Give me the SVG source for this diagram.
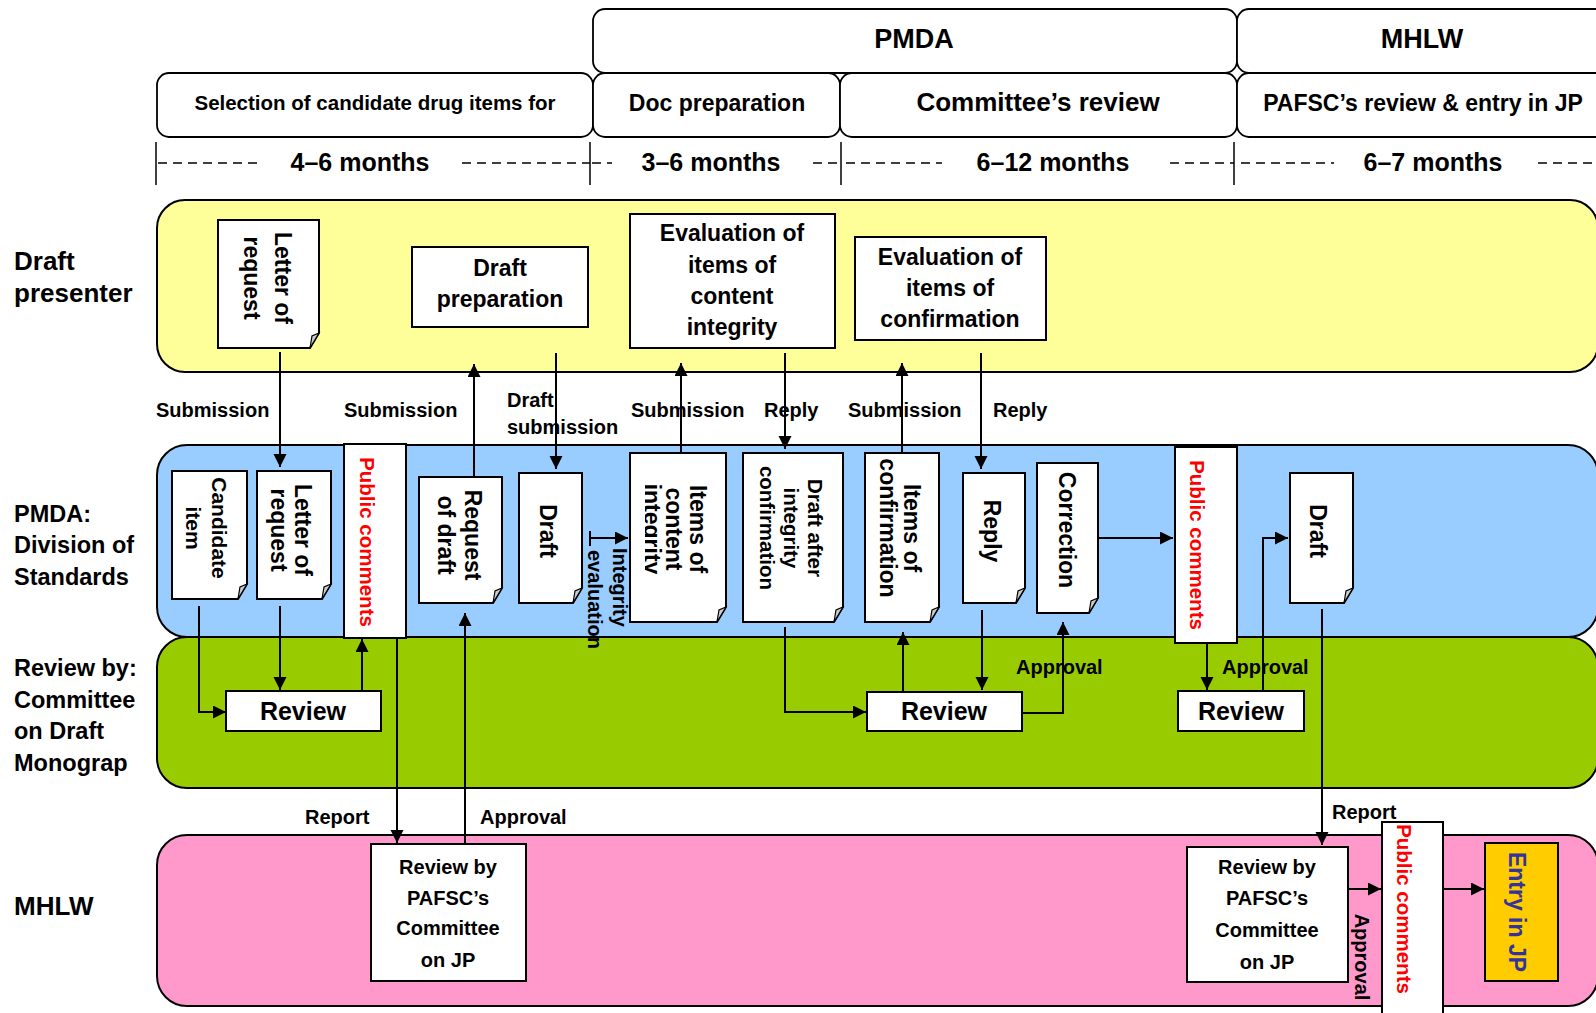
<svg xmlns="http://www.w3.org/2000/svg" width="1596" height="1013" viewBox="0 0 1596 1013">
<style>
.t{font-family:"Liberation Sans",Arial,sans-serif;font-weight:bold;fill:#000}
.lbl{font-size:23.5px}
.lbl2{font-size:26px}
.sm{font-size:20px}
.doc{font-size:23px}
.red{fill:#ff0000}
.lane{stroke:#000;stroke-width:2}
.box{fill:#fff;stroke:#000;stroke-width:2}
.hdr{fill:#fff;stroke:#000;stroke-width:1.8}
.fold{fill:#cccccc;stroke:#000;stroke-width:1.2}
.conn{fill:none;stroke:#000;stroke-width:2}
.arr{marker-end:url(#ah)}
.dash{stroke:#000;stroke-width:1.5;stroke-dasharray:9 6}
.tick{stroke:#000;stroke-width:1.5}
.r{text-anchor:middle;dominant-baseline:central}
.m{text-anchor:middle}
</style>
<defs>
<marker id="ah" markerUnits="userSpaceOnUse" markerWidth="14" markerHeight="14" refX="13" refY="6.5" orient="auto"><path d="M0,0 L13,6.5 L0,13 Z" fill="#000"/></marker>
<clipPath id="clipInt"><rect x="645" y="450" width="90" height="175"/></clipPath>
</defs>
<rect width="1596" height="1013" fill="#fff"/>

<g id="header">
<rect class="hdr" x="593" y="9" width="644" height="64" rx="12"/>
<rect class="hdr" x="1237" y="9" width="380" height="64" rx="12"/>
<rect class="hdr" x="157" y="73" width="436" height="64" rx="12"/>
<rect class="hdr" x="593" y="73" width="247" height="64" rx="12"/>
<rect class="hdr" x="840" y="73" width="397" height="64" rx="12"/>
<rect class="hdr" x="1237" y="73" width="380" height="64" rx="12"/>
<text class="t m" x="914" y="48" font-size="27">PMDA</text>
<text class="t m" x="1422" y="48" font-size="27">MHLW</text>
<text class="t m" x="375" y="110" font-size="20.5">Selection of candidate drug items for</text>
<text class="t m" x="717" y="111" font-size="23">Doc preparation</text>
<text class="t m" x="1038" y="111" font-size="26">Committee’s review</text>
<text class="t m" x="1423" y="111" font-size="23">PAFSC’s review &amp; entry in JP</text>
</g>

<g id="timeline">
<line class="tick" x1="156" y1="142" x2="156" y2="185"/>
<line class="tick" x1="590" y1="142" x2="590" y2="185"/>
<line class="tick" x1="841" y1="142" x2="841" y2="185"/>
<line class="tick" x1="1234" y1="142" x2="1234" y2="185"/>
<line class="dash" x1="158" y1="163" x2="262" y2="163"/>
<line class="dash" x1="462" y1="163" x2="590" y2="163"/>
<line class="dash" x1="592" y1="163" x2="612" y2="163"/>
<line class="dash" x1="813" y1="163" x2="841" y2="163"/>
<line class="dash" x1="846" y1="163" x2="942" y2="163"/>
<line class="dash" x1="1170" y1="163" x2="1234" y2="163"/>
<line class="dash" x1="1241" y1="163" x2="1334" y2="163"/>
<line class="dash" x1="1538" y1="163" x2="1596" y2="163"/>
<text class="t m" x="360" y="171" font-size="25">4–6 months</text>
<text class="t m" x="711" y="171" font-size="25">3–6 months</text>
<text class="t m" x="1053" y="171" font-size="25">6–12 months</text>
<text class="t m" x="1433" y="171" font-size="25">6–7 months</text>
</g>

<g id="lanes">
<rect class="lane" x="157" y="200" width="1441" height="172" rx="28" fill="#ffff99"/>
<rect class="lane" x="157" y="445" width="1441" height="192" rx="30" fill="#99ccff"/>
<rect class="lane" x="157" y="637" width="1441" height="151" rx="30" fill="#99cc00"/>
<rect class="lane" x="157" y="835" width="1441" height="171" rx="30" fill="#ff99cc"/>
</g>

<g id="lane-labels" class="t lbl">
<text class="lbl2" x="14" y="270">Draft</text>
<text class="lbl2" x="14" y="302">presenter</text>
<text x="14" y="522">PMDA:</text>
<text x="14" y="553">Division of</text>
<text x="14" y="585">Standards</text>
<text x="14" y="676">Review by:</text>
<text x="14" y="708">Committee</text>
<text x="14" y="739">on Draft</text>
<text x="14" y="771">Monograp</text>
<text class="lbl2" x="14" y="915">MHLW</text>
</g>

<g id="connectors">
<path class="conn arr" d="M280,352 V467"/>
<path class="conn arr" d="M474,477 V364"/>
<path class="conn arr" d="M556,353 V469"/>
<path class="conn arr" d="M681,453 V363"/>
<path class="conn arr" d="M785,353 V449"/>
<path class="conn arr" d="M902,453 V363"/>
<path class="conn arr" d="M981,353 V469"/>
<path class="conn arr" d="M199,606 V712 H226"/>
<path class="conn arr" d="M280,606 V690"/>
<path class="conn arr" d="M362,691 V639"/>
<path class="conn arr" d="M397,639 V843"/>
<path class="conn arr" d="M465,844 V613"/>
<path class="conn arr" d="M590,531 V546 M590,538 H628"/>
<path class="conn arr" d="M785,627 V712 H866"/>
<path class="conn arr" d="M903,691 V632"/>
<path class="conn arr" d="M982,610 V690"/>
<path class="conn arr" d="M1022,713 H1063 V622"/>
<path class="conn arr" d="M1099,538 H1173"/>
<path class="conn arr" d="M1207,643 V690"/>
<path class="conn arr" d="M1263,691 V538 H1288"/>
<path class="conn arr" d="M1322,609 V845"/>
<path class="conn arr" d="M1348,889 H1381"/>
<path class="conn arr" d="M1443,889 H1484"/>
</g>

<g id="connector-labels" class="t sm">
<text x="156" y="417">Submission</text>
<text x="344" y="417">Submission</text>
<text x="507" y="407">Draft</text>
<text x="507" y="434">submission</text>
<text x="631" y="417">Submission</text>
<text x="764" y="417">Reply</text>
<text x="848" y="417">Submission</text>
<text x="993" y="417">Reply</text>
<text x="1016" y="674">Approval</text>
<text x="1222" y="674">Approval</text>
<text x="305" y="824">Report</text>
<text x="480" y="824">Approval</text>
<text x="1332" y="819">Report</text>
<text class="r" transform="translate(1362,957) rotate(90)">Approval</text>
<g id="integrity-evaluation">
<text transform="translate(620,548) rotate(90)" dominant-baseline="central">Integrity</text>
<text transform="translate(595,550) rotate(90)" dominant-baseline="central">evaluation</text>
</g>
</g>

<g id="n-letter-yellow">
<path class="box" d="M218,220 H319 V333 L310,348 H218 Z"/>
<path class="fold" d="M319,333 L310,348 L312,336 Z"/>
<text class="t doc r" transform="translate(283,278) rotate(90)">Letter of</text>
<text class="t doc r" transform="translate(252,278) rotate(90)">request</text>
</g>
<g id="n-draft-prep">
<rect class="box" x="412" y="247" width="176" height="80"/>
<text class="t doc m" x="500" y="276">Draft</text>
<text class="t doc m" x="500" y="307">preparation</text>
</g>
<g id="n-eval-integrity">
<rect class="box" x="630" y="214" width="205" height="134"/>
<text class="t doc m" x="732" y="241">Evaluation of</text>
<text class="t doc m" x="732" y="273">items of</text>
<text class="t doc m" x="732" y="304">content</text>
<text class="t doc m" x="732" y="335">integrity</text>
</g>
<g id="n-eval-confirmation">
<rect class="box" x="855" y="237" width="191" height="103"/>
<text class="t doc m" x="950" y="265">Evaluation of</text>
<text class="t doc m" x="950" y="296">items of</text>
<text class="t doc m" x="950" y="327">confirmation</text>
</g>

<g id="n-candidate">
<path class="box" d="M172,471 H247 V584 L238,599 H172 Z"/>
<path class="fold" d="M247,584 L238,599 L240,587 Z"/>
<text class="t r" font-size="21" transform="translate(219,528) rotate(90)">Candidate</text>
<text class="t r" font-size="21" transform="translate(193,528) rotate(90)">item</text>
</g>
<g id="n-letter-blue">
<path class="box" d="M257,471 H331 V584 L322,599 H257 Z"/>
<path class="fold" d="M331,584 L322,599 L324,587 Z"/>
<text class="t doc r" transform="translate(303,530) rotate(90)">Letter of</text>
<text class="t doc r" transform="translate(279,530) rotate(90)">request</text>
</g>
<g id="n-public-1">
<rect class="box" x="344" y="444" width="62" height="194"/>
<text class="t red r" font-size="20.5" transform="translate(367,542) rotate(90)">Public comments</text>
</g>
<g id="n-request-draft">
<path class="box" d="M419,477 H502 V588 L493,603 H419 Z"/>
<path class="fold" d="M502,588 L493,603 L495,591 Z"/>
<text class="t doc r" transform="translate(473,535) rotate(90)">Request</text>
<text class="t doc r" transform="translate(446,535) rotate(90)">of draft</text>
</g>
<g id="n-draft-1">
<path class="box" d="M519,473 H582 V588 L573,603 H519 Z"/>
<path class="fold" d="M582,588 L573,603 L575,591 Z"/>
<text class="t doc r" transform="translate(548,531) rotate(90)">Draft</text>
</g>
<g id="n-items-integrity">
<path class="box" d="M630,453 H726 V607 L717,622 H630 Z"/>
<path class="fold" d="M726,607 L717,622 L719,610 Z"/>
<text class="t doc r" transform="translate(698,529) rotate(90)">Items of</text>
<text class="t doc r" transform="translate(674,529) rotate(90)">content</text>
<g clip-path="url(#clipInt)"><text class="t doc r" transform="translate(652,529) rotate(90)">integrity</text></g>
</g>
<g id="n-draft-after">
<path class="box" d="M743,453 H843 V607 L834,622 H743 Z"/>
<path class="fold" d="M843,607 L834,622 L836,610 Z"/>
<text class="t r" font-size="20.5" transform="translate(815,528) rotate(90)">Draft after</text>
<text class="t r" font-size="20.5" transform="translate(791,528) rotate(90)">integrity</text>
<text class="t r" font-size="20.5" transform="translate(767,528) rotate(90)">confirmation</text>
</g>
<g id="n-items-confirmation">
<path class="box" d="M865,453 H939 V607 L930,622 H865 Z"/>
<path class="fold" d="M939,607 L930,622 L932,610 Z"/>
<text class="t doc r" transform="translate(912,528) rotate(90)">Items of</text>
<text class="t doc r" transform="translate(888,528) rotate(90)">confirmation</text>
</g>
<g id="n-reply">
<path class="box" d="M963,473 H1025 V588 L1016,603 H963 Z"/>
<path class="fold" d="M1025,588 L1016,603 L1018,591 Z"/>
<text class="t doc r" transform="translate(992,531) rotate(90)">Reply</text>
</g>
<g id="n-correction">
<path class="box" d="M1037,463 H1098 V598 L1089,613 H1037 Z"/>
<path class="fold" d="M1098,598 L1089,613 L1091,601 Z"/>
<text class="t doc r" transform="translate(1067,530) rotate(90)">Correction</text>
</g>
<g id="n-public-2">
<rect class="box" x="1175" y="447" width="62" height="196"/>
<text class="t red r" font-size="20.5" transform="translate(1197,545) rotate(90)">Public comments</text>
</g>
<g id="n-draft-2">
<path class="box" d="M1290,473 H1353 V588 L1344,603 H1290 Z"/>
<path class="fold" d="M1353,588 L1344,603 L1346,591 Z"/>
<text class="t doc r" transform="translate(1318,531) rotate(90)">Draft</text>
</g>

<g id="n-review-1">
<rect class="box" x="226" y="691" width="155" height="40"/>
<text class="t m" x="303" y="720" font-size="25">Review</text>
</g>
<g id="n-review-2">
<rect class="box" x="867" y="692" width="155" height="39"/>
<text class="t m" x="944" y="720" font-size="25">Review</text>
</g>
<g id="n-review-3">
<rect class="box" x="1178" y="691" width="126" height="40"/>
<text class="t m" x="1241" y="720" font-size="25">Review</text>
</g>

<g id="n-pafsc-1">
<rect class="box" x="371" y="844" width="155" height="137"/>
<text class="t sm m" x="448" y="874">Review by</text>
<text class="t sm m" x="448" y="905">PAFSC’s</text>
<text class="t sm m" x="448" y="935">Committee</text>
<text class="t sm m" x="448" y="967">on JP</text>
</g>
<g id="n-pafsc-2">
<rect class="box" x="1187" y="847" width="161" height="135"/>
<text class="t sm m" x="1267" y="874">Review by</text>
<text class="t sm m" x="1267" y="905">PAFSC’s</text>
<text class="t sm m" x="1267" y="937">Committee</text>
<text class="t sm m" x="1267" y="969">on JP</text>
</g>
<g id="n-public-3">
<rect class="box" x="1382" y="822" width="61" height="200"/>
<text class="t red r" font-size="20.5" transform="translate(1404,909) rotate(90)">Public comments</text>
</g>
<g id="n-entry">
<rect x="1485" y="843" width="73" height="138" fill="#ffcc00" stroke="#000" stroke-width="2"/>
<text class="t doc r" style="fill:#333399" transform="translate(1517,912) rotate(90)">Entry in JP</text>
</g>
</svg>
